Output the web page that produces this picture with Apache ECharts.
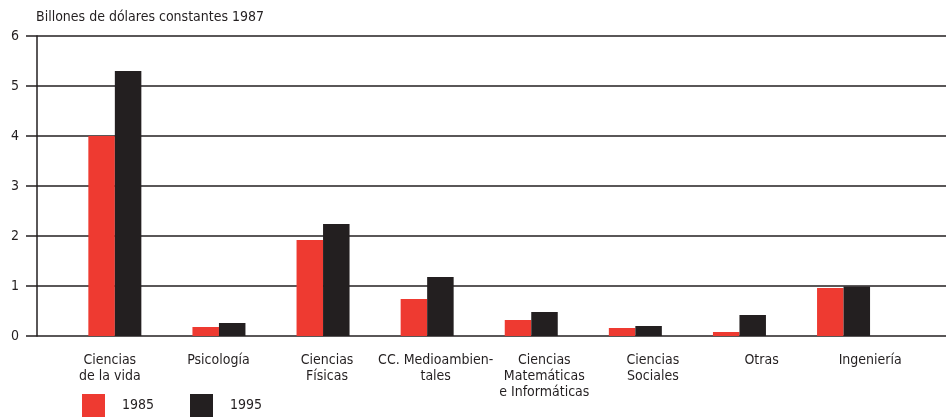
<!DOCTYPE html>
<html>
<head>
<meta charset="utf-8">
<script src="https://cdn.jsdelivr.net/npm/echarts@6/dist/echarts.min.js"></script>
<style>html,body{margin:0;padding:0;background:#fff}#c{width:946px;height:418px}</style>
</head>
<body>
<div id="c"></div>
<script>
var categories = ['Ciencias\nde la vida', 'Psicología', 'Ciencias\nFísicas', 'CC. Medioambien-\ntales', 'Ciencias\nMatemáticas\ne Informáticas', 'Ciencias\nSociales', 'Otras', 'Ingeniería'];
var s1985 = [4.0, 0.18, 1.92, 0.74, 0.32, 0.16, 0.08, 0.96];
var s1995 = [5.3, 0.26, 2.24, 1.18, 0.48, 0.20, 0.42, 0.99];
var yTicks = [0, 1, 2, 3, 4, 5, 6];
var unitTitle = 'Billones de dólares constantes 1987';

var FONT = 'DejaVu Sans Condensed';
var INK = '#231f20';
var RED = '#ee3a31';

var chart = echarts.init(document.getElementById('c'), null, {renderer: 'canvas'});
var yMin = yTicks[0], yMax = yTicks[yTicks.length - 1];
chart.setOption({
  animation: false,
  backgroundColor: '#fff',
  textStyle: {fontFamily: FONT, color: INK},
  title: {
    text: unitTitle, left: 31, top: 5,
    textStyle: {fontFamily: FONT, fontSize: 14, fontWeight: 'normal', color: INK}
  },
  legend: [{
    data: ['1985'], left: 77, top: 389, itemWidth: 23, itemHeight: 23,
    icon: 'rect', textStyle: {fontFamily: FONT, fontSize: 14, color: INK, padding: [0, 0, 0, 12]}
  }, {
    data: ['1995'], left: 185, top: 389, itemWidth: 23, itemHeight: 23,
    icon: 'rect', textStyle: {fontFamily: FONT, fontSize: 14, color: INK, padding: [0, 0, 0, 12]}
  }],
  grid: [
    {left: 37, right: 0, top: 36, bottom: 82},
    {left: 62.8, right: 50.4, top: 36, bottom: 82},
    {left: 55.5, right: 21.5, top: 36, bottom: 82}
  ],
  xAxis: [
    {gridIndex: 0, type: 'category', data: [], show: false},
    {gridIndex: 1, type: 'category', data: categories, show: false},
    {gridIndex: 2, type: 'category', data: categories,
      axisLine: {show: false}, axisTick: {show: false},
      axisLabel: {fontFamily: FONT, fontSize: 14, color: INK, lineHeight: 16, margin: 16, interval: 0}}
  ],
  yAxis: [
    {gridIndex: 0, type: 'value', min: yMin, max: yMax, interval: 1,
      axisLine: {show: true, lineStyle: {color: INK, width: 1.5}},
      axisTick: {show: true, inside: false, length: 11, lineStyle: {color: INK, width: 1.5}},
      axisLabel: {fontFamily: FONT, fontSize: 14, color: INK, margin: 18},
      splitLine: {show: true, lineStyle: {color: INK, width: 1.5}}},
    {gridIndex: 1, type: 'value', min: yMin, max: yMax, interval: 1, show: false, splitLine: {show: false}},
    {gridIndex: 2, type: 'value', min: yMin, max: yMax, interval: 1, show: false, splitLine: {show: false}}
  ],
  series: [
    {name: '1985', type: 'bar', xAxisIndex: 1, yAxisIndex: 1, data: s1985,
      barWidth: 26.5, barGap: '0%', itemStyle: {color: RED}, z: 3},
    {name: '1995', type: 'bar', xAxisIndex: 1, yAxisIndex: 1, data: s1995,
      barWidth: 26.5, barGap: '0%', itemStyle: {color: INK}, z: 3}
  ]
});
</script>
</body>
</html>
